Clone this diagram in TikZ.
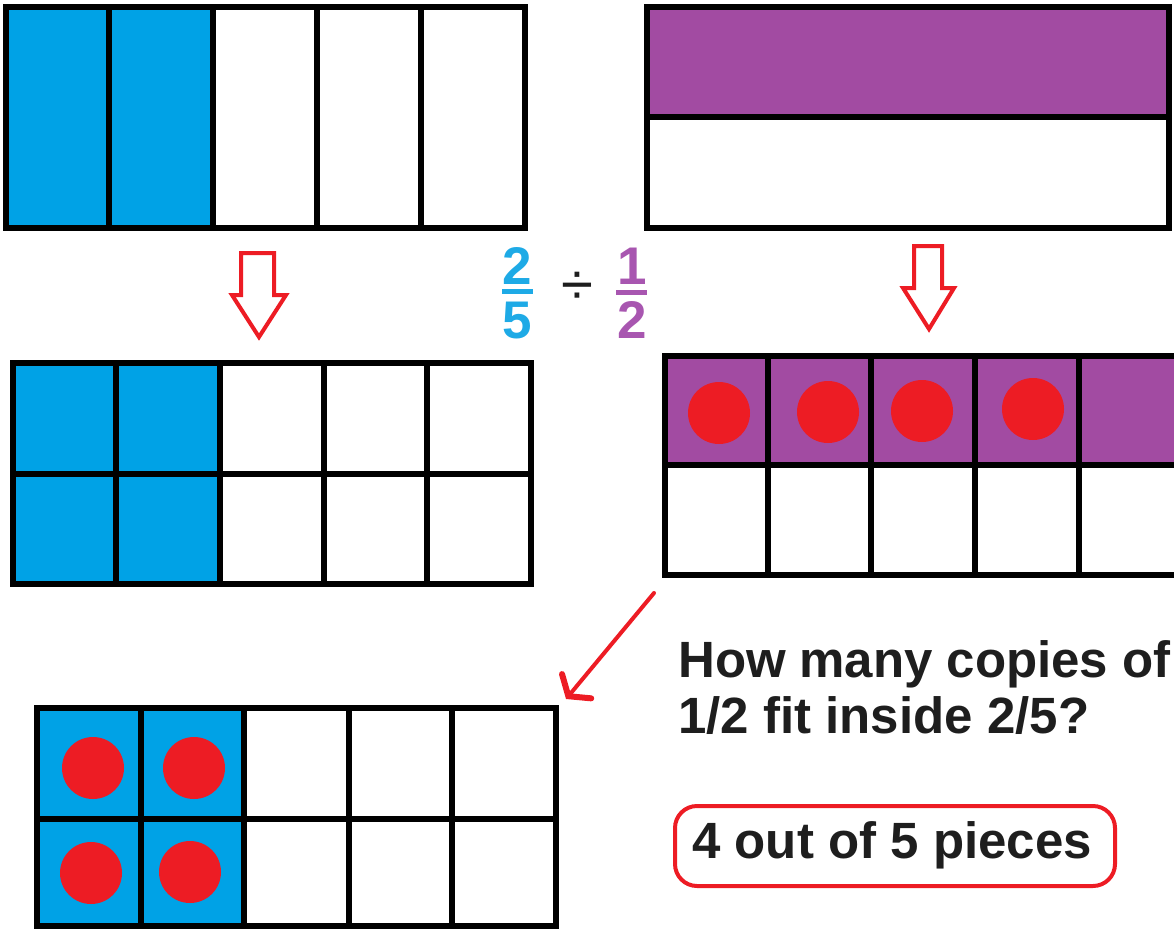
\documentclass[tikz,border=0pt]{standalone}
\usepackage{fontspec}
\setmainfont{Liberation Sans}
\usetikzlibrary{arrows.meta}
\definecolor{barblue}{RGB}{0,162,230}
\definecolor{barpurple}{RGB}{162,75,162}
\definecolor{fracblue}{RGB}{30,170,230}
\definecolor{fracpurple}{RGB}{168,86,176}
\definecolor{markred}{RGB}{237,28,36}
\definecolor{inkgray}{RGB}{30,30,30}

\begin{document}
\begin{tikzpicture}[x=1pt,y=-1pt,
  cellline/.style={draw=black,line width=6pt},
  blockarrow/.style={draw=markred,line width=4pt,fill=white,line join=miter},
  reddot/.style={fill=markred},
  bigtext/.style={font=\fontsize{51}{60}\selectfont\bfseries,text=inkgray,inner sep=0pt},
  fractext/.style={font=\fontsize{53}{60}\selectfont\bfseries,inner sep=0pt}]
  \useasboundingbox (0,0) rectangle (1174,928);
  \clip (0,0) rectangle (1174,928);

  % 2/5 as five strips
  \fill[barblue] (6,7) rectangle (213,228);
  \draw[cellline] (6,7) rectangle (525,228);
  \foreach \x in {109,213,317,421}
    \draw[cellline] (\x,7) -- (\x,228);

  % 1/2 as two rows
  \fill[barpurple] (647,7) rectangle (1169,117);
  \draw[cellline] (647,7) rectangle (1169,228);
  \draw[cellline] (647,117) -- (1169,117);

  % 2/5 cut in halves
  \fill[barblue] (13,363) rectangle (220,584);
  \draw[cellline] (13,363) rectangle (531,584);
  \draw[cellline] (13,474) -- (531,474);
  \foreach \x in {116,220,324,427}
    \draw[cellline] (\x,363) -- (\x,584);

  % 1/2 cut in fifths
  \fill[barpurple] (665,356) rectangle (1190,465);
  \draw[cellline] (665,356) rectangle (1190,575);
  \draw[cellline] (665,465) -- (1190,465);
  \foreach \x in {768,871,975,1079}
    \draw[cellline] (\x,356) -- (\x,575);
  \foreach \x/\y in {719/413,828/412,922/411,1033/409}
    \fill[reddot] (\x,\y) circle (31);

  % 4 of the pieces inside 2/5
  \fill[barblue] (37,708) rectangle (244,926);
  \draw[cellline] (37,708) rectangle (556,926);
  \draw[cellline] (37,819) -- (556,819);
  \foreach \x in {141,244,349,452}
    \draw[cellline] (\x,708) -- (\x,926);
  \foreach \x/\y in {93/768,194/768,91/873,190/872}
    \fill[reddot] (\x,\y) circle (31);

  % block arrows
  \draw[blockarrow] (241,253) -- (274,253) -- (274,295) -- (286,295)
    -- (259,337) -- (232,295) -- (241,295) -- cycle;
  \draw[blockarrow] (914,246) -- (942,246) -- (942,288) -- (954,288)
    -- (929,329) -- (903,288) -- (914,288) -- cycle;

  % the division
  \node[fractext,text=fracblue,anchor=base] (numA) at (517,284) {2};
  \node[fractext,text=fracblue,anchor=base] (denA) at (517,338) {5};
  \draw[fracblue,line width=5pt] (502,291) -- (533,291);
  \node[font=\fontsize{58}{60}\selectfont,text=inkgray,inner sep=0pt] (divsign) at (577,288) {÷};
  \node[fractext,text=fracpurple,anchor=base] (numB) at (632,284) {1};
  \node[fractext,text=fracpurple,anchor=base] (denB) at (632,338) {2};
  \draw[fracpurple,line width=5pt] (616,292) -- (647,292);

  % link between grids
  \coordinate (linkstart) at (654,593);
  \coordinate (linkend) at (566,699);
  \draw[markred,line width=4pt,line cap=round,
    -{Straight Barb[length=13pt,width=38pt,line width=6pt,line cap=round]}] (linkstart) -- (linkend);

  % question and answer
  \node[bigtext,anchor=base west] (askone) at (678,677) {\makebox[492pt][s]{How many copies of}};
  \node[bigtext,anchor=base west] (asktwo) at (678,733) {1/2 fit inside 2/5?};
  \node[bigtext,anchor=base west] (answer) at (692,858) {4 out of 5 pieces};
  \draw[markred,line width=4pt,rounded corners=22pt] (675,806) rectangle (1115,886);
\end{tikzpicture}
\end{document}
